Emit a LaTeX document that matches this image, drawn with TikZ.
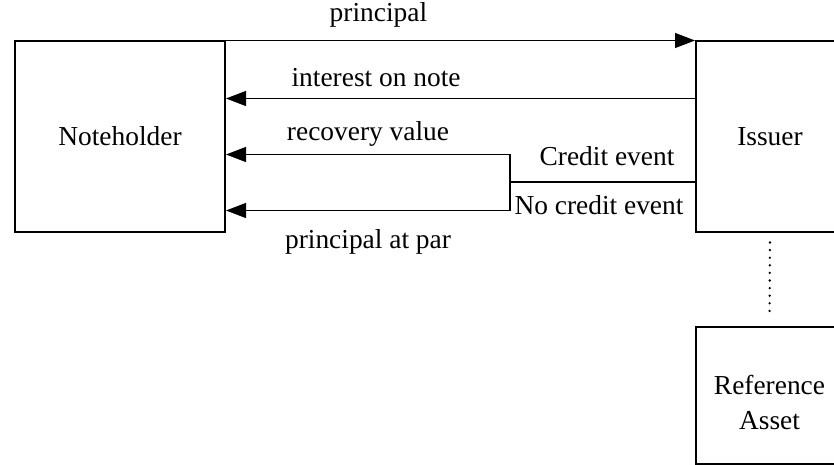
\documentclass[tikz,border=0pt]{standalone}
\usepackage{fontspec}
\setmainfont{Liberation Serif}
\usetikzlibrary{positioning,arrows.meta}

\begin{document}
\begin{tikzpicture}[x=0.5pt, y=-0.5pt,
      every node/.style={font=\fontsize{13.7}{17.5}\selectfont},
      party/.style={draw, line width=1pt, align=center, inner sep=0pt},
      flow/.style={line width=0.6pt, -{Triangle[length=10pt, width=7.5pt]}},
      link/.style={line width=0.6pt}]

      % Frame of the page, cut at the right edge
      \useasboundingbox (0,0) rectangle (834,465);
      \clip (0,0) rectangle (834,465);

      % The three parties
      \node(holder)[party, minimum width=105pt, minimum height=95pt] at (120,136.5) {Noteholder};
      \node(issuer)[party, minimum width=74pt, minimum height=95pt] at (770,136.5) {Issuer};
      \node(asset)[party, minimum width=74pt, minimum height=68.5pt, text height=34pt] at (769.5,395.5) {Reference\\Asset};

      % Principal paid to the issuer
      \draw[flow] (holder.north east) -- (issuer.north west)
          node(lblprincipal)[above=3pt, pos=0.325] {principal};

      % Interest paid to the noteholder
      \draw[flow] ([yshift=19pt]issuer.west) -- ([yshift=19pt]holder.east)
          node(lblinterest)[above=2pt, pos=0.68] {interest on note};

      % Split on credit event
      \coordinate(split) at (510,182);
      \draw[link] (issuer.west |- split) -- (split);
      \draw[flow] (split) |- ([yshift=-9pt]holder.east)
          node(lblrecovery)[above=0.5pt, pos=0.75] {recovery value};
      \draw[flow] (split) |- ([yshift=-37pt]holder.east)
          node(lblpar)[below=6pt, pos=0.75] {principal at par};

      % Label the two branches
      \node(lblcredit) at (607,156) {Credit event};
      \node(lblnocredit) at (599,205) {No credit event};

      % Dotted link to the reference asset
      \draw[line width=1.3pt, dash pattern=on 0pt off 3.8pt, line cap=round,
          shorten <=5pt, shorten >=5pt] (issuer.south) -- (asset.north);

\end{tikzpicture}
\end{document}
